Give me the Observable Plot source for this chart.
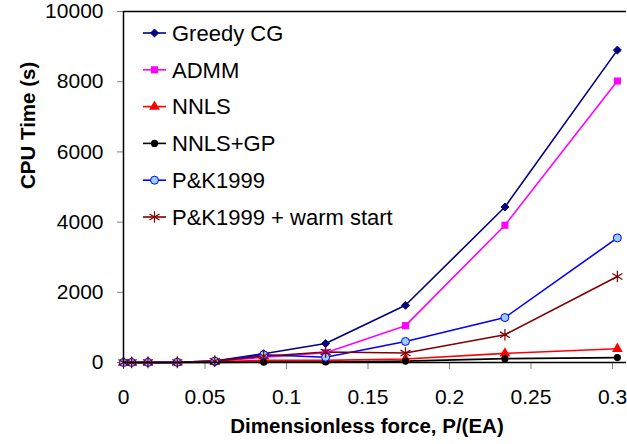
<!DOCTYPE html>
<html>
<head>
<meta charset="utf-8">
<script src="https://cdn.jsdelivr.net/npm/d3@7"></script>
<script src="https://cdn.jsdelivr.net/npm/@observablehq/plot@0.6"></script>
<style>
  html, body { margin: 0; padding: 0; background: #fff; }
  #chart { position: relative; width: 627px; height: 444px; font-family: "Liberation Sans", Arial, sans-serif; }
  #legend { position: absolute; left: 0; top: 0; pointer-events: none; }
</style>
</head>
<body>
<div id="chart"></div>
<script>
// ---- data ----
const force = [0, 0.005, 0.015, 0.033, 0.056, 0.086, 0.124, 0.173, 0.234, 0.303];
const seriesNames = ["Greedy CG", "ADMM", "NNLS", "NNLS+GP", "P&K1999", "P&K1999 + warm start"];
const greedyCG = [0, 1, 2, 5, 40, 250, 540, 1630, 4430, 8900];
const admm     = [0, 1, 2, 5, 30, 150, 280, 1050, 3910, 8020];
const nnls     = [0, 1, 2, 4, 20, 60, 60, 100, 260, 390];
const nnlsGP   = [0, 0, 1, 2, 5, 10, 15, 40, 110, 140];
const pk1999   = [0, 1, 2, 5, 40, 220, 150, 600, 1280, 3550];
const pkWarm   = [0, 1, 2, 5, 40, 180, 300, 270, 790, 2450];
const xTicks = [0, 0.05, 0.1, 0.15, 0.2, 0.25, 0.3];
const yTicks = [0, 2000, 4000, 6000, 8000, 10000];
const xLabel = "Dimensionless force, P/(EA)";
const yLabel = "CPU Time (s)";

// ---- styles ----
const styles = [
  {symbol: "diamond2", line: "#000080", fill: "#000080", stroke: "#000080", r: 3.6},
  {symbol: "square", line: "#FF00FF", fill: "#FF00FF", stroke: "none", r: 4},
  {symbol: "triangle", line: "#FF0000", fill: "#FF0000", stroke: "none", r: 4},
  {symbol: "circle", line: "#000000", fill: "#000000", stroke: "none", r: 3.6},
  {symbol: "circle", line: "#0000FF", fill: "#99CCFF", stroke: "#0000FF", r: 4},
  {symbol: "asterisk", line: "#800000", fill: "none", stroke: "#800000", r: 5.5}
];
const values = [greedyCG, admm, nnls, nnlsGP, pk1999, pkWarm];

const tables = values.map((vals, i) => force.map((f, j) => ({x: f, y: vals[j], s: seriesNames[i]})));

const marks = [];
tables.forEach((t, i) => {
  marks.push(Plot.line(t, {x: "x", y: "y", stroke: styles[i].line, strokeWidth: 1.6}));
});
tables.forEach((t, i) => {
  const st = styles[i];
  marks.push(Plot.dot(t, {x: "x", y: "y", symbol: () => st.symbol, r: st.r,
    fill: st.fill, stroke: st.stroke, strokeWidth: st.symbol === "asterisk" ? 1.2 : 1}));
});

const xFmt = d => String(+d.toFixed(2));
const yFmt = d => String(d);

const plot = Plot.plot({
  width: 627,
  height: 444,
  marginLeft: 123,
  marginRight: 1,
  marginTop: 11,
  marginBottom: 82,
  style: {fontFamily: "'Liberation Sans', Arial, sans-serif", fontSize: "21px", color: "#000", background: "#fff"},
  x: {domain: [0, 0.3086], ticks: xTicks, tickFormat: xFmt},
  y: {domain: [0, 10000], ticks: yTicks, tickFormat: yFmt},
  symbol: {type: "identity"},
  marks: [
    Plot.axisY({ticks: yTicks, tickFormat: yFmt, tickSize: 6, tickPadding: 14, stroke: "#808080", label: null, fontSize: 21}),
    Plot.axisX({ticks: xTicks, tickFormat: xFmt, tickSize: 7, tickPadding: 20, stroke: "#808080", label: null, fontSize: 21}),
    Plot.ruleY([10000], {stroke: "#000", strokeWidth: 1.5}),
    ...marks,
    Plot.ruleX([0], {stroke: "#000", strokeWidth: 1.5}),
    Plot.ruleY([0], {stroke: "#000", strokeWidth: 1.5}),
    Plot.text([xLabel], {frameAnchor: "bottom", dy: 70, dx: -8, fontWeight: "bold", fontSize: 20.5}),
    Plot.text([yLabel], {frameAnchor: "left", rotate: -90, dx: -95, dy: 2, fontWeight: "bold", fontSize: 20.5})
  ]
});
document.getElementById("chart").appendChild(plot);

// ---- legend ----
const legend = d3.select("#chart").append("svg").attr("id", "legend")
  .attr("width", 627).attr("height", 444);
const rowY = i => 33 + i * 36.8;
const symMap = {diamond2: d3.symbolDiamond2, square: d3.symbolSquare, triangle: d3.symbolTriangle,
  circle: d3.symbolCircle, asterisk: d3.symbolAsterisk};
seriesNames.forEach((name, i) => {
  const st = styles[i];
  const g = legend.append("g").attr("transform", `translate(0,${rowY(i)})`);
  g.append("line").attr("x1", 143).attr("x2", 166).attr("y1", 0).attr("y2", 0)
    .attr("stroke", st.line).attr("stroke-width", 1.6);
  g.append("path").attr("transform", "translate(154.5,0)")
    .attr("d", d3.symbol(symMap[st.symbol], Math.PI * st.r * st.r)())
    .attr("fill", st.fill).attr("stroke", st.stroke)
    .attr("stroke-width", st.symbol === "asterisk" ? 1.2 : 1);
  g.append("text").attr("x", 172).attr("y", 0).attr("dy", "0.35em")
    .attr("font-family", "'Liberation Sans', Arial, sans-serif").attr("font-size", 22)
    .attr("fill", "#000").text(name);
});
</script>
</body>
</html>
